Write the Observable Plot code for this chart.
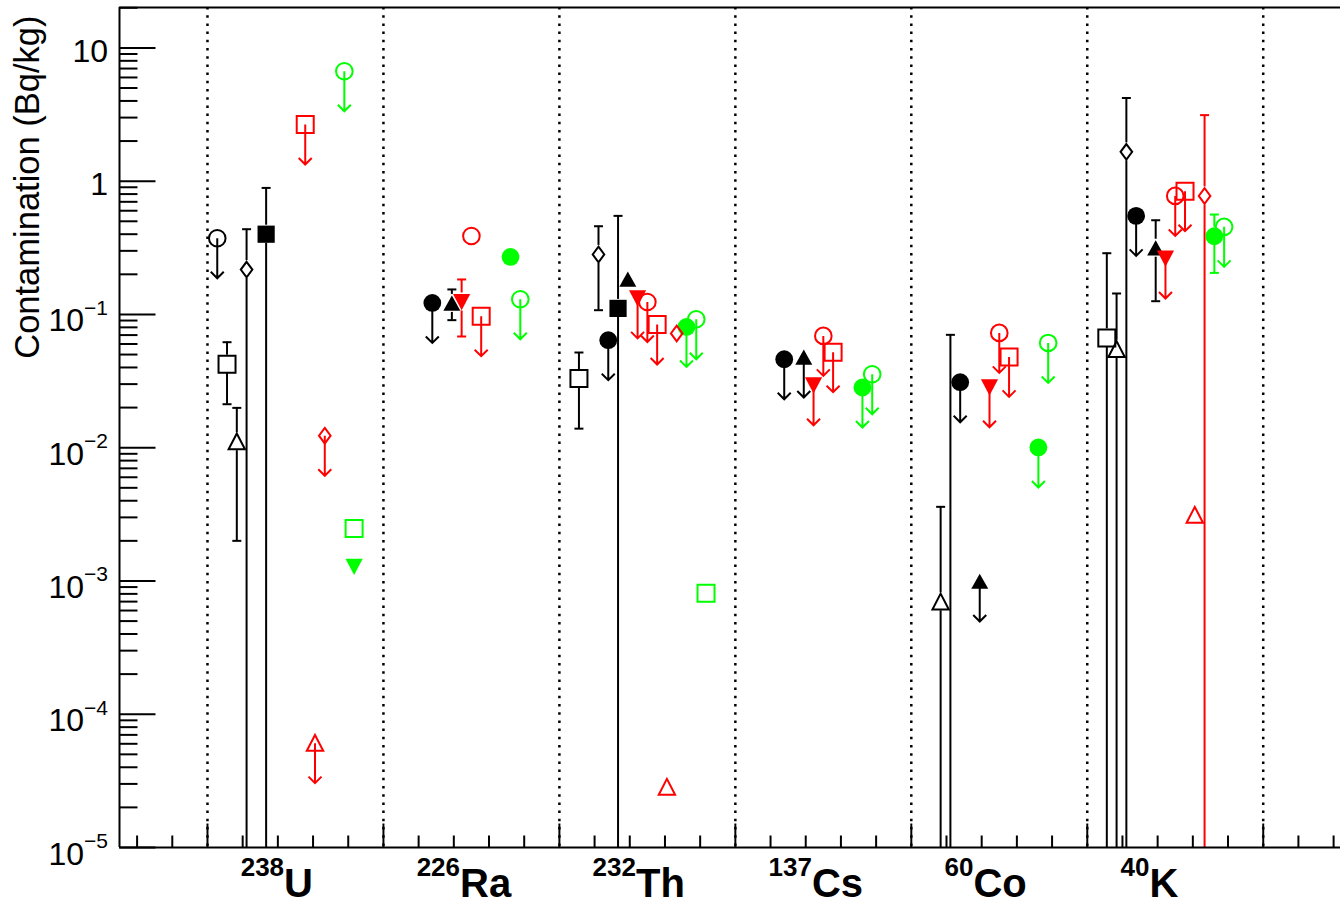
<!DOCTYPE html>
<html>
<head>
<meta charset="utf-8">
<script src="https://cdn.jsdelivr.net/npm/d3@7"></script>
<script src="https://cdn.jsdelivr.net/npm/@observablehq/plot@0.6"></script>
<style>
  html, body { margin: 0; padding: 0; background: #ffffff; }
  #chart svg { display: block; }
</style>
</head>
<body>
<div id="chart"></div>
<script>
// ---------------- DATA ----------------
const isotopes = ["238U", "226Ra", "232Th", "137Cs", "60Co", "40K"];
const BELOW = 1e-6; // error bar / point lying below the axis range (runs off the bottom)

// rows: [isotope, value (Bq/kg), errLow, errHigh, isUpperLimit]
const blackOpenCircle = [["238U", 0.373, null, null, true]];
const blackOpenSquare = [
  ["238U", 0.0423, 0.0212, 0.0619, false],
  ["232Th", 0.0330, 0.0139, 0.0518, false],
  ["40K", 0.0667, BELOW, 0.288, false]
];
const blackOpenTriangle = [
  ["238U", 0.0111, 0.0020, 0.0199, false],
  ["60Co", 0.000697, BELOW, 0.0036, false],
  ["40K", 0.0547, BELOW, 0.1436, false]
];
const blackOpenDiamond = [
  ["238U", 0.217, BELOW, 0.436, false],
  ["232Th", 0.282, 0.1076, 0.459, false],
  ["60Co", 5e-6, BELOW, 0.0703, false],
  ["40K", 1.66, BELOW, 4.21, false]
];
const blackFullCircle = [
  ["226Ra", 0.122, null, null, true],
  ["232Th", 0.0641, null, null, true],
  ["137Cs", 0.0461, null, null, true],
  ["60Co", 0.0310, null, null, true],
  ["40K", 0.549, null, null, true]
];
const blackFullSquare = [
  ["238U", 0.40, BELOW, 0.89, false],
  ["232Th", 0.111, BELOW, 0.549, false]
];
const blackFullTriangle = [
  ["226Ra", 0.121, 0.0906, 0.154, false],
  ["232Th", 0.183, null, null, false],
  ["137Cs", 0.0475, null, null, true],
  ["60Co", 0.00099, null, null, true],
  ["40K", 0.314, 0.1257, 0.509, false]
];
const redFullTriangleDown = [
  ["226Ra", 0.124, 0.0683, 0.183, false],
  ["232Th", 0.132, null, null, true],
  ["137Cs", 0.0294, null, null, true],
  ["60Co", 0.0284, null, null, true],
  ["40K", 0.263, null, null, true]
];
const redOpenCircle = [
  ["226Ra", 0.388, null, null, false],
  ["232Th", 0.124, null, null, true],
  ["137Cs", 0.069, null, null, true],
  ["60Co", 0.0727, null, null, true],
  ["40K", 0.775, null, null, true]
];
const redOpenSquare = [
  ["238U", 2.66, null, null, true],
  ["226Ra", 0.097, null, null, true],
  ["232Th", 0.084, null, null, true],
  ["137Cs", 0.0521, null, null, true],
  ["60Co", 0.048, null, null, true],
  ["40K", 0.841, null, null, true]
];
const redOpenTriangle = [
  ["238U", 6.07e-5, null, null, true],
  ["232Th", 2.84e-5, null, null, false],
  ["40K", 0.00312, null, null, false]
];
const redOpenDiamond = [
  ["238U", 0.0123, null, null, true],
  ["232Th", 0.072, null, null, false],
  ["40K", 0.775, BELOW, 3.13, false]
];
const greenFullCircle = [
  ["226Ra", 0.270, null, null, false],
  ["232Th", 0.0806, null, null, true],
  ["137Cs", 0.0283, null, null, true],
  ["60Co", 0.01004, null, null, true],
  ["40K", 0.386, 0.205, 0.562, false]
];
const greenOpenCircle = [
  ["238U", 6.68, null, null, true],
  ["226Ra", 0.130, null, null, true],
  ["232Th", 0.092, null, null, true],
  ["137Cs", 0.0356, null, null, true],
  ["60Co", 0.0611, null, null, true],
  ["40K", 0.454, null, null, true]
];
const greenOpenSquare = [
  ["238U", 0.00248, null, null, false],
  ["232Th", 0.000809, null, null, false]
];
const greenFullTriangleDown = [["238U", 0.00128, null, null, false]];

// tick labels
const yMajorTicks = [1e-5, 1e-4, 1e-3, 1e-2, 1e-1, 1, 10];
const yTickLabels = ["10^{\u22125}", "10^{\u22124}", "10^{\u22123}", "10^{\u22122}", "10^{\u22121}", "1", "10"];
const yTitle = "Contamination (Bq/kg)";

// ---------------- STYLE / LAYOUT ----------------
const seriesRows = [blackOpenCircle, blackOpenSquare, blackOpenTriangle, blackOpenDiamond,
  blackFullCircle, blackFullSquare, blackFullTriangle,
  redFullTriangleDown, redOpenCircle, redOpenSquare, redOpenTriangle, redOpenDiamond,
  greenFullCircle, greenOpenCircle, greenOpenSquare, greenFullTriangleDown];
const seriesColor = ["#000000", "#000000", "#000000", "#000000", "#000000", "#000000", "#000000",
  "#ff0000", "#ff0000", "#ff0000", "#ff0000", "#ff0000",
  "#00ff00", "#00ff00", "#00ff00", "#00ff00"];
const seriesMarker = ["openCircle", "openSquare", "openTriangle", "openDiamond",
  "fullCircle", "fullSquare", "fullTriangle",
  "fullTriangleDown", "openCircle", "openSquare", "openTriangle", "openDiamond",
  "fullCircle", "openCircle", "openSquare", "fullTriangleDown"];
const seriesSlot = [1, 2, 3, 4, 5, 6, 7, 8, 9, 10, 11, 12, 13, 14, 15, 15];

const groupWidth = 5, slotsPerGroup = 18;
const xDomain = [-2.5, 32.196];
const yDomain = [1e-5, 20.1];

const table = seriesRows.flatMap((rows, s) => rows.map(([iso, value, lo, hi, limit]) => ({
  iso, value, lo, hi, limit,
  color: seriesColor[s], marker: seriesMarker[s],
  x: isotopes.indexOf(iso) * groupWidth + seriesSlot[s] * groupWidth / slotsPerGroup
})));

const poly = (pts) => ({draw(c) { c.moveTo(...pts[0]); for (const p of pts.slice(1)) c.lineTo(...p); c.closePath(); }});
const markerSymbols = {
  openCircle: {draw(c) { c.moveTo(8.3, 0); c.arc(0, 0, 8.3, 0, 2 * Math.PI); c.closePath(); }},
  fullCircle: {draw(c) { c.moveTo(8.9, 0); c.arc(0, 0, 8.9, 0, 2 * Math.PI); c.closePath(); }},
  openSquare: {draw(c) { c.rect(-8.5, -8.5, 17, 17); }},
  fullSquare: {draw(c) { c.rect(-8.6, -8.6, 17.2, 17.2); }},
  openTriangle: poly([[0, -8.2], [8.2, 7.6], [-8.2, 7.6]]),
  fullTriangle: poly([[0, -7.9], [8.5, 7.3], [-8.5, 7.3]]),
  fullTriangleDown: poly([[0, 8.2], [8.6, -8], [-8.6, -8]]),
  openDiamond: poly([[0, -7.8], [5.8, 0], [0, 7.8], [-5.8, 0]])
};
const filledMarkers = new Set(["fullCircle", "fullSquare", "fullTriangle", "fullTriangleDown"]);
const arrowSymbol = {draw(c) { c.moveTo(0, 0); c.lineTo(0, 40); c.moveTo(-6.5, 33.5); c.lineTo(0, 40); c.lineTo(6.5, 33.5); }};
const capSymbol = {draw(c) { c.moveTo(-4.5, 0); c.lineTo(4.5, 0); }};
const hTick = (len) => ({draw(c) { c.moveTo(0, 0); c.lineTo(len, 0); }});
const vTick = (len) => ({draw(c) { c.moveTo(0, 0); c.lineTo(0, -len); }});

const groupEdges = d3.range(0, 31, groupWidth);
const xTicks = d3.range(-2, 33);
const xMajor = xTicks.filter(t => t % groupWidth === 0);
const xMinor = xTicks.filter(t => t % groupWidth !== 0);
const yMinor = [];
for (let e = -5; e <= 1; e++) for (let m = 2; m <= 9; m++) { const v = m * Math.pow(10, e); if (v <= 20) yMinor.push(v); }

const withHi = table.filter(d => d.hi != null);
const withLo = table.filter(d => d.lo != null);

const marks = [
  Plot.ruleX(groupEdges, {x: d => d, stroke: "#000", strokeWidth: 2.5, strokeDasharray: "2.5,5.7"}),
  Plot.ruleX(withHi, {x: "x", y1: "hi", y2: "value", stroke: "color", strokeWidth: 2, insetBottom: 9, clip: true}),
  Plot.ruleX(withLo, {x: "x", y1: "value", y2: "lo", stroke: "color", strokeWidth: 2, insetTop: 9, clip: true}),
  Plot.dot(withHi, {x: "x", y: "hi", symbol: capSymbol, stroke: "color", fill: "none", strokeWidth: 2, clip: true}),
  Plot.dot(withLo.filter(d => d.lo >= yDomain[0]), {x: "x", y: "lo", symbol: capSymbol, stroke: "color", fill: "none", strokeWidth: 2, clip: true}),
  ...Object.keys(markerSymbols).map(m => Plot.dot(table.filter(d => d.marker === m), {
    x: "x", y: "value", symbol: markerSymbols[m],
    fill: filledMarkers.has(m) ? "color" : "none",
    stroke: filledMarkers.has(m) ? "none" : "color",
    strokeWidth: 2, clip: true
  })),
  Plot.dot(table.filter(d => d.limit), {x: "x", y: "value", symbol: arrowSymbol, stroke: "color", fill: "none", strokeWidth: 2, clip: true}),
  // frame / axes
  Plot.ruleY([yDomain[0]], {y: d => d, stroke: "#000", strokeWidth: 2}),
  Plot.ruleY([yDomain[1]], {y: d => d, stroke: "#000", strokeWidth: 2}),
  Plot.ruleX([xDomain[0]], {x: d => d, stroke: "#000", strokeWidth: 2}),
  Plot.dot(yMajorTicks, {y: d => d, frameAnchor: "left", symbol: hTick(36), stroke: "#000", fill: "none", strokeWidth: 2}),
  Plot.dot(yMinor, {y: d => d, frameAnchor: "left", symbol: hTick(18), stroke: "#000", fill: "none", strokeWidth: 2}),
  Plot.dot(xMajor, {x: d => d, frameAnchor: "bottom", symbol: vTick(24), stroke: "#000", fill: "none", strokeWidth: 2}),
  Plot.dot(xMinor, {x: d => d, frameAnchor: "bottom", symbol: vTick(12), stroke: "#000", fill: "none", strokeWidth: 2}),
  Plot.text(yMajorTicks, {y: d => d, text: (d, i) => yTickLabels[i], frameAnchor: "left", dx: -11.5,
    textAnchor: "end", fontSize: 32, fill: "#000", ariaDescription: "y-tick-label"}),
  Plot.text(isotopes, {x: (d, i) => i * groupWidth + 1, text: d => d, frameAnchor: "bottom", dx: -2, dy: 49,
    textAnchor: "start", fontSize: 40, fontWeight: "bold", fill: "#000", ariaDescription: "isotope-label"}),
  Plot.text([yTitle], {text: d => d, frameAnchor: "top-left", dx: -105, dy: 8, rotate: -90,
    textAnchor: "end", fontSize: 34.5, fill: "#000", ariaDescription: "y-title"})
];

const svg = Plot.plot({
  width: 1340, height: 902,
  marginLeft: 119, marginRight: 0, marginTop: 7, marginBottom: 55,
  x: {domain: xDomain, axis: null},
  y: {type: "log", domain: yDomain, axis: null},
  color: {type: "identity"},
  style: {fontFamily: "'Liberation Sans', Arial, Helvetica, sans-serif", background: "#ffffff", color: "#000", overflow: "visible"},
  marks
});

d3.select(svg).selectAll('g[aria-description="y-tick-label"] text').each(function () {
  const s = this.textContent;
  const m = s.match(/^(.+)\^\{(.+)\}$/);
  const t = d3.select(this);
  if (m) {
    t.text(null).attr("y", 17);
    t.append("tspan").text(m[1]);
    t.append("tspan").attr("dy", -16.5).attr("font-size", 21).text(m[2]);
  } else {
    t.attr("y", 14);
  }
});
d3.select(svg).selectAll('g[aria-description="isotope-label"] text').each(function () {
  const s = this.textContent;
  const m = s.match(/^(\d+)(\D+)$/);
  const t = d3.select(this);
  t.text(null).attr("y", 0);
  t.append("tspan").attr("font-size", 26).attr("dy", -21).text(m[1]);
  t.append("tspan").attr("font-size", 40).attr("dy", 21).text(m[2]);
});

document.getElementById("chart").appendChild(svg);
</script>
</body>
</html>
